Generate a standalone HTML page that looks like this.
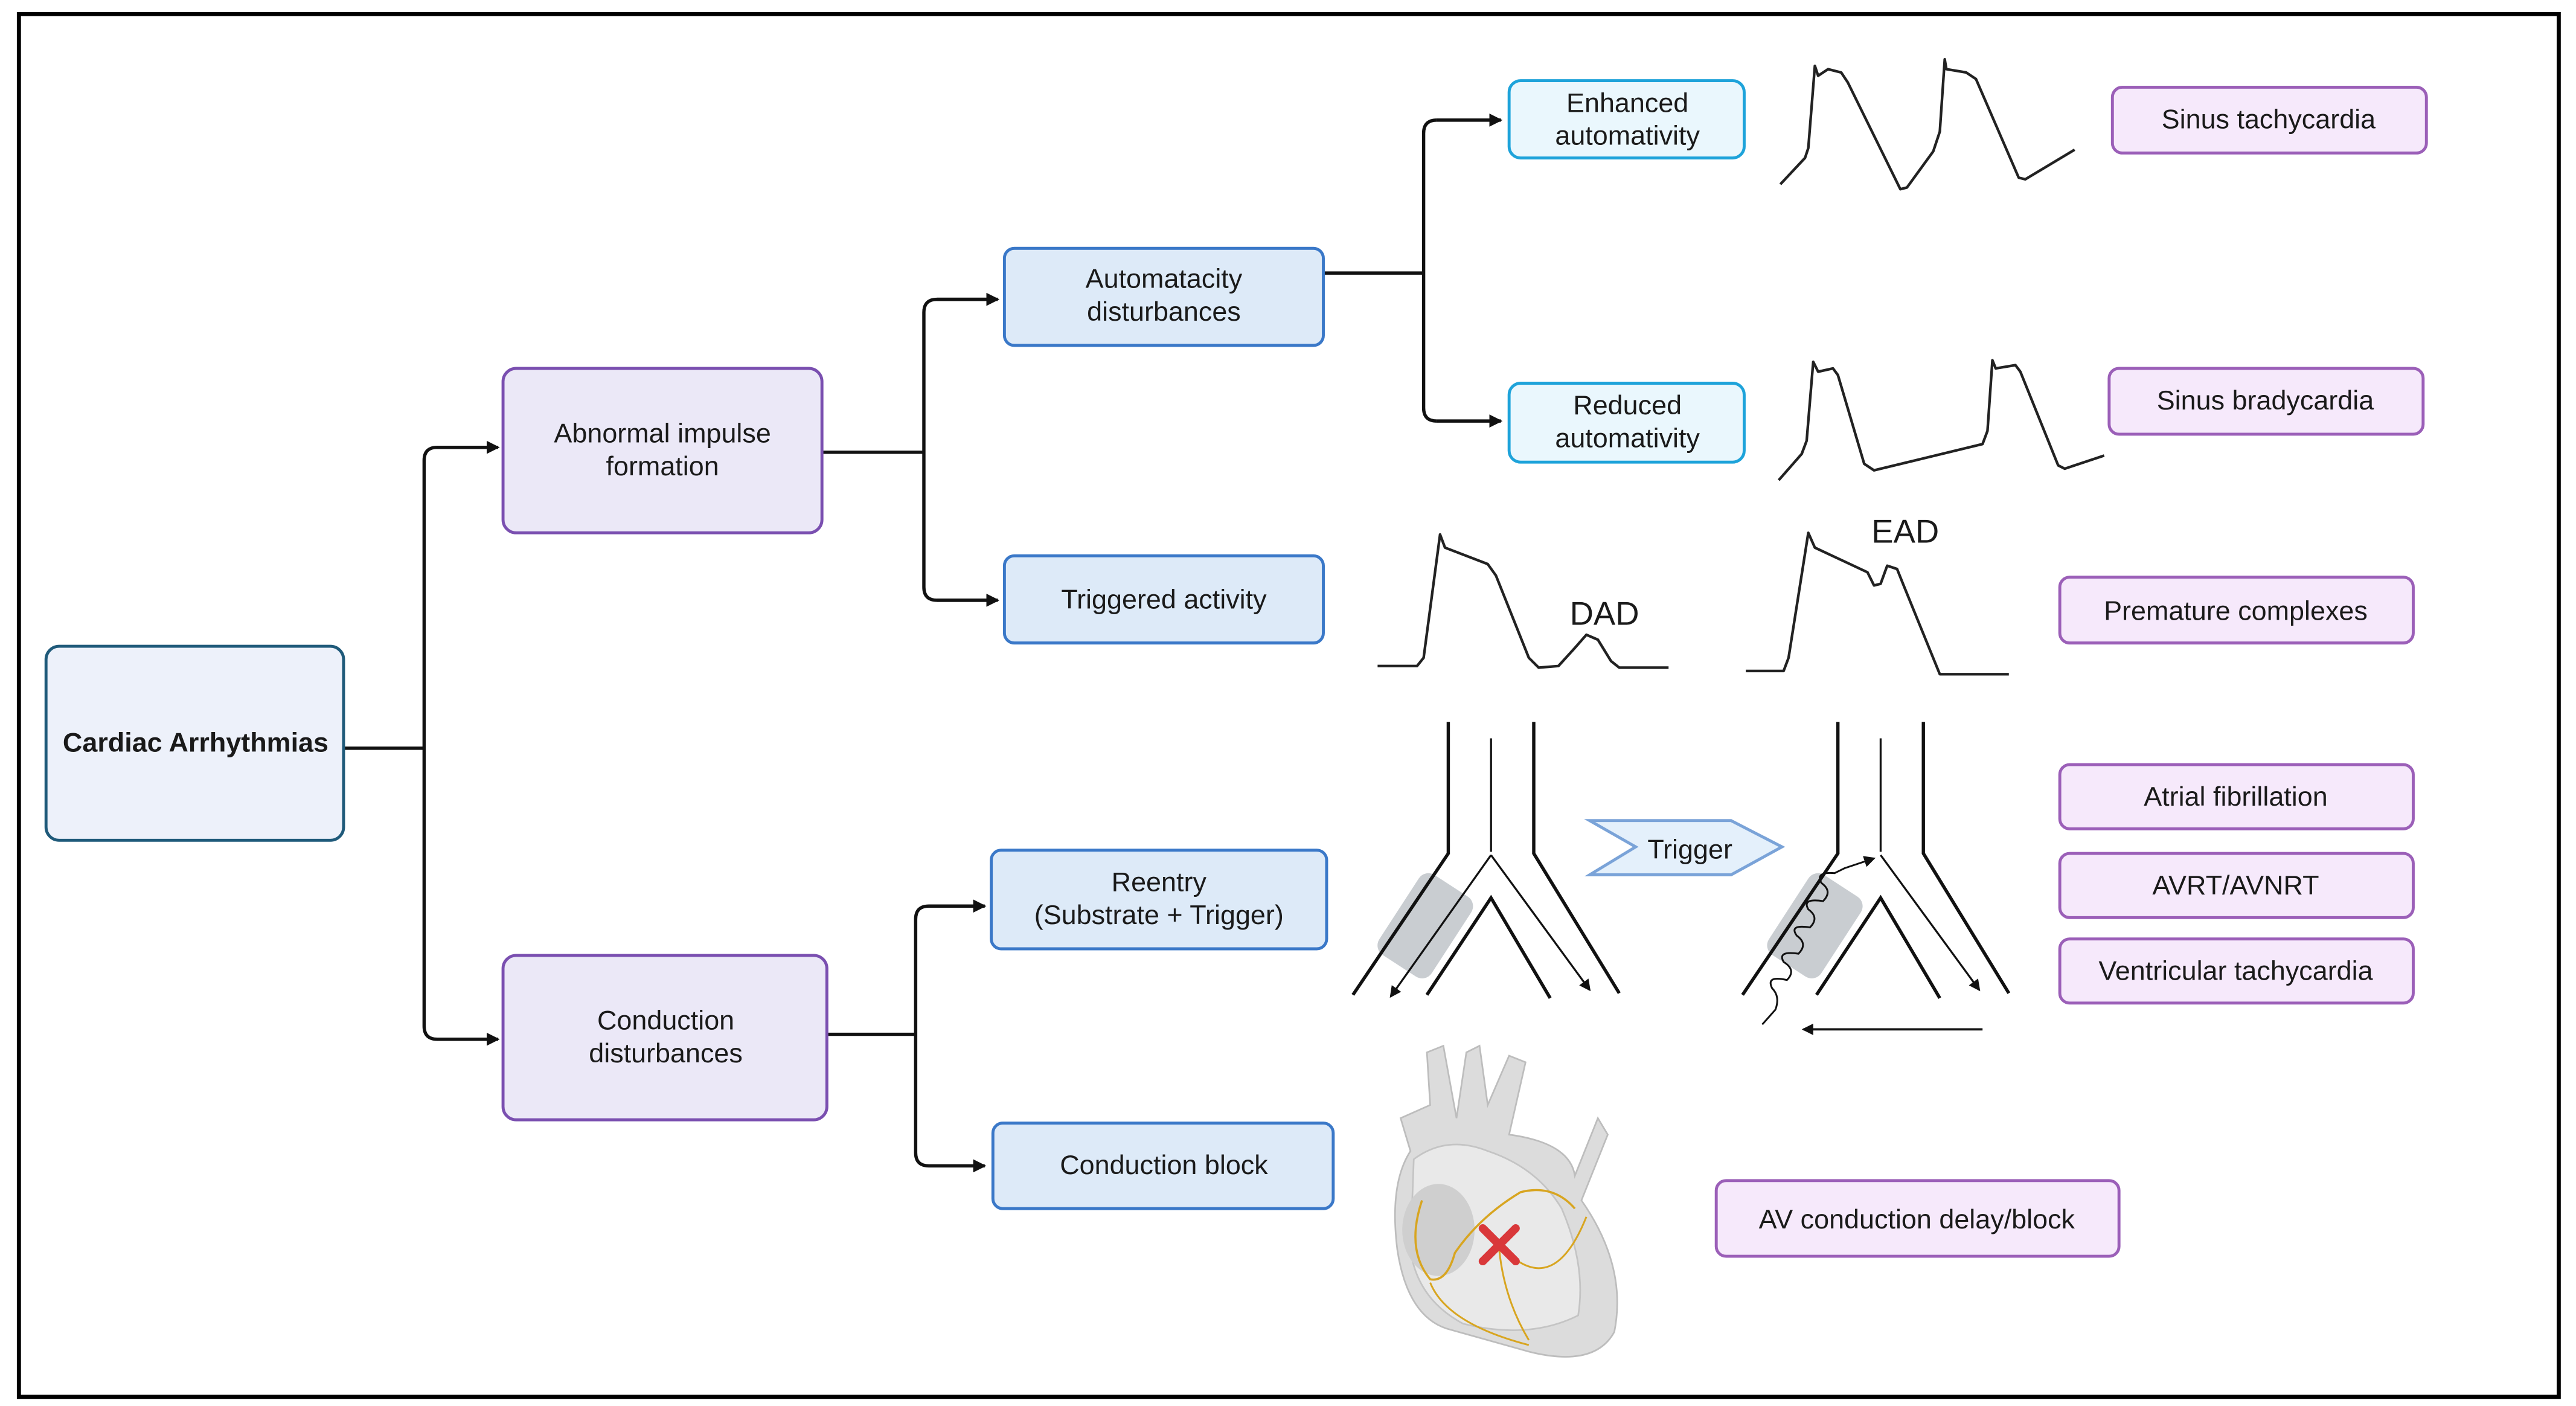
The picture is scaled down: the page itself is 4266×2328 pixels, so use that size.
<!DOCTYPE html>
<html><head><meta charset="utf-8"><style>
html,body{margin:0;padding:0;background:#fff}
svg{display:block}
text{font-family:"Liberation Sans",sans-serif;fill:#1a1a1a}
</style></head><body>
<svg width="4266" height="2328" viewBox="0 0 1567 855" xmlns="http://www.w3.org/2000/svg">
<defs>
<marker id="ah" markerWidth="8" markerHeight="8" refX="7" refY="4" orient="auto" markerUnits="userSpaceOnUse"><path d="M0,0 L8,4 L0,8 Z" fill="#111"/></marker>
<marker id="sa" markerWidth="7" markerHeight="7" refX="6" refY="3.5" orient="auto" markerUnits="userSpaceOnUse"><path d="M0,0 L7,3.5 L0,7 Z" fill="#111"/></marker>
</defs>
<rect x="0" y="0" width="1567" height="855" fill="#fff"/>
<rect x="11.5" y="8.5" width="1545" height="841" fill="none" stroke="#000" stroke-width="2.5"/>

<g fill="none" stroke="#111" stroke-width="2">
<path d="M209,455 H258"/>
<path d="M296,272 H266 Q258,272 258,280 V624 Q258,632 266,632 H296" />
<path d="M266,272 H303" marker-end="url(#ah)"/>
<path d="M266,632 H303" marker-end="url(#ah)"/>
<path d="M500,275 H562"/>
<path d="M600,182 H570 Q562,182 562,190 V357 Q562,365 570,365 H600"/>
<path d="M570,182 H607" marker-end="url(#ah)"/>
<path d="M570,365 H607" marker-end="url(#ah)"/>
<path d="M503,629 H557"/>
<path d="M565,551 Q557,551 557,559 V701 Q557,709 565,709"/>
<path d="M565,551 H599" marker-end="url(#ah)"/>
<path d="M565,709 H599" marker-end="url(#ah)"/>
<path d="M805,166 H866"/>
<path d="M874,73 Q866,73 866,81 V248 Q866,256 874,256"/>
<path d="M874,73 H913" marker-end="url(#ah)"/>
<path d="M874,256 H913" marker-end="url(#ah)"/>
</g>

<g stroke-width="1.8">
<rect x="28" y="393" width="181" height="118" rx="8" fill="#edf1fa" stroke="#1f5a7a"/>
<rect x="306" y="224" width="194" height="100" rx="8" fill="#ebe8f7" stroke="#7a4fb0"/>
<rect x="306" y="581" width="197" height="100" rx="8" fill="#ebe8f7" stroke="#7a4fb0"/>
<rect x="611" y="151" width="194" height="59" rx="6" fill="#ddeaf8" stroke="#3a78c8"/>
<rect x="611" y="338" width="194" height="53" rx="6" fill="#ddeaf8" stroke="#3a78c8"/>
<rect x="603" y="517" width="204" height="60" rx="6" fill="#ddeaf8" stroke="#3a78c8"/>
<rect x="604" y="683" width="207" height="52" rx="6" fill="#ddeaf8" stroke="#3a78c8"/>
<rect x="918" y="49" width="143" height="47" rx="7" fill="#eaf7fd" stroke="#1ea3da"/>
<rect x="918" y="233" width="143" height="48" rx="7" fill="#eaf7fd" stroke="#1ea3da"/>
<g fill="#f6e9fb" stroke="#9b5fb8">
<rect x="1285" y="53" width="191" height="40" rx="6"/>
<rect x="1283" y="224" width="191" height="40" rx="6"/>
<rect x="1253" y="351" width="215" height="40" rx="6"/>
<rect x="1253" y="465" width="215" height="39" rx="6"/>
<rect x="1253" y="519" width="215" height="39" rx="6"/>
<rect x="1253" y="571" width="215" height="39" rx="6"/>
<rect x="1044" y="718" width="245" height="46" rx="6"/>
</g>
</g>

<g font-size="16.5" text-anchor="middle">
<text x="119" y="457" font-weight="bold" font-size="16.5">Cardiac Arrhythmias</text>
<text x="403" y="269">Abnormal impulse</text><text x="403" y="289">formation</text>
<text x="405" y="626">Conduction</text><text x="405" y="646">disturbances</text>
<text x="708" y="175">Automatacity</text><text x="708" y="195">disturbances</text>
<text x="708" y="370">Triggered activity</text>
<text x="705" y="542">Reentry</text><text x="705" y="562">(Substrate + Trigger)</text>
<text x="708" y="714">Conduction block</text>
<text x="990" y="68">Enhanced</text><text x="990" y="88">automativity</text>
<text x="990" y="252">Reduced</text><text x="990" y="272">automativity</text>
<text x="1380" y="78">Sinus tachycardia</text>
<text x="1378" y="249">Sinus bradycardia</text>
<text x="1360" y="377">Premature complexes</text>
<text x="1360" y="490">Atrial fibrillation</text>
<text x="1360" y="544">AVRT/AVNRT</text>
<text x="1360" y="596">Ventricular tachycardia</text>
<text x="1166" y="747">AV conduction delay/block</text>
<text x="976" y="380" font-size="20">DAD</text>
<text x="1159" y="330" font-size="20">EAD</text>
</g>

<g fill="none" stroke="#222" stroke-width="1.6" stroke-linejoin="round">
<path d="M1083,112 L1098,96 L1100,90 L1104,40 L1106,46 L1112,42 L1120,44 L1124,50 L1156,115 L1160,114 L1176,92 L1180,80 L1183,36 L1184,42 L1196,44 L1202,48 L1228,108 L1232,109 L1262,91"/>
<path d="M1082,292 L1096,276 L1099,268 L1103,220 L1106,226 L1115,224 L1118,228 L1134,282 L1140,286 L1206,270 L1209,262 L1212,219 L1214,224 L1226,222 L1229,226 L1252,283 L1256,285 L1280,277"/>
<path d="M838,405 L862,405 L866,400 L876,325 L879,333 L905,343 L910,350 L930,400 L936,406 L948,405 L958,394 L965,386 L972,389 L980,402 L985,406 L1015,406"/>
<path d="M1062,408 L1085,408 L1088,400 L1100,324 L1104,333 L1136,348 L1140,356 L1144,355 L1148,344 L1154,346 L1158,356 L1180,410 L1222,410"/>
</g>

<!-- left Y -->
<g fill="none" stroke="#111" stroke-width="2">
<rect x="848" y="534" width="38" height="58" rx="7" fill="#c9cdd1" stroke="none" transform="rotate(33 867 563)"/>
<path d="M881,439 V519 L823,605"/>
<path d="M933,439 V519 L985,604"/>
<path d="M868,605 L907,546 L943,607"/>
<path d="M907,449 V518" stroke-width="1.2"/>
<path d="M907,520 L846,606" stroke-width="1.2" marker-end="url(#sa)"/>
<path d="M907,520 L967,602" stroke-width="1.2" marker-end="url(#sa)"/>
</g>
<!-- right Y -->
<g fill="none" stroke="#111" stroke-width="2">
<rect x="1085" y="534" width="38" height="58" rx="7" fill="#c9cdd1" stroke="none" transform="rotate(33 1104 563)"/>
<path d="M1118,439 V519 L1060,605"/>
<path d="M1170,439 V519 L1222,604"/>
<path d="M1105,605 L1144,546 L1180,607"/>
<path d="M1144,449 V518" stroke-width="1.2"/>
<path d="M1144,520 L1204,602" stroke-width="1.2" marker-end="url(#sa)"/>
<path d="M1072,623 L1080,614 Q1083,606 1078,601 Q1074,593 1087,596 Q1093,590 1085,585 Q1081,578 1094,580 Q1100,574 1093,569 Q1088,562 1101,564 Q1107,558 1100,553 Q1096,546 1109,548 Q1115,542 1108,537 Q1104,530 1116,531 L1122,528 L1140,522" stroke-width="1.1" marker-end="url(#sa)"/>
<path d="M1206,626 H1097" stroke-width="1.4" marker-end="url(#sa)"/>
</g>
<!-- trigger -->
<polygon points="967,499 1053,499 1084,515 1053,532 967,532 995,515" fill="#e4f0fb" stroke="#7aa3d8" stroke-width="1.8"/>
<text x="1028" y="522" font-size="16.5" text-anchor="middle">Trigger</text>

<!-- heart -->
<g>
<path d="M868,640 L878,636 L886,680 L892,640 L900,636 L905,672 L918,642 L928,646 L918,690 Q955,695 958,715 L972,680 L978,690 L962,730 Q990,770 982,810 Q970,832 930,822 L880,808 Q856,800 850,760 Q845,720 858,700 L852,680 L870,672 Z" fill="#dcdcdc" stroke="#bdbdbd" stroke-width="1"/>
<path d="M860,705 Q880,690 905,700 Q935,710 950,735 Q965,770 960,800 Q930,815 890,805 Q862,790 858,760 Z" fill="#e9e9e9" stroke="#c4c4c4" stroke-width="1"/>
<ellipse cx="875" cy="748" rx="22" ry="28" fill="#cfcfcf"/>
<path d="M865,730 Q855,760 870,778 Q880,780 885,762 Q900,740 925,725 Q945,720 958,735" fill="none" stroke="#d8a520" stroke-width="1.3"/>
<path d="M912,760 Q915,790 930,815 M915,760 Q945,790 965,740 M870,780 Q880,805 930,818" fill="none" stroke="#d8a520" stroke-width="1.1"/>
<path d="M902,747 L922,767 M922,747 L902,767" stroke="#d9383a" stroke-width="5" stroke-linecap="round"/>
</g>
</svg>
</body></html>
